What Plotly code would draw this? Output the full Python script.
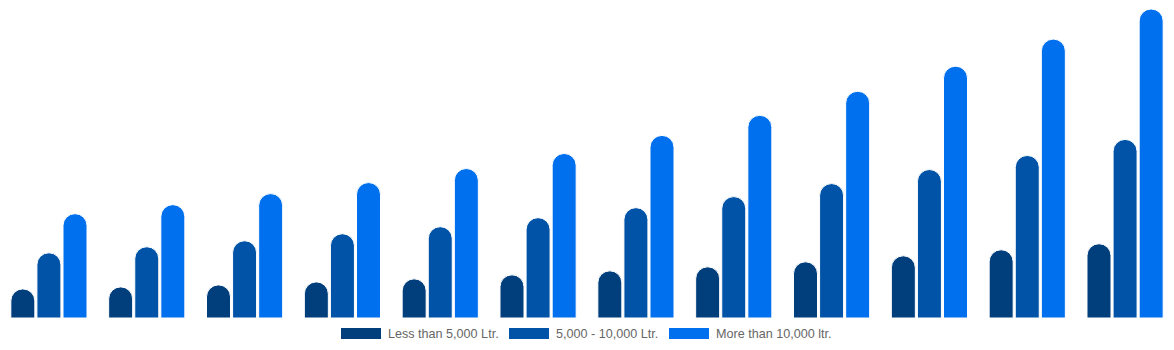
import plotly.graph_objects as go

categories = ["2023", "2024", "2025", "2026", "2027", "2028", "2029", "2030", "2031", "2032", "2033", "2034"]
series_names = ["Less than 5,000 Ltr.", "5,000 - 10,000 Ltr.", "More than 10,000 ltr."]
less_5000 = [2.9, 3.1, 3.3, 3.6, 3.9, 4.3, 4.7, 5.1, 5.6, 6.2, 6.8, 7.4]
mid_5000_10000 = [6.5, 7.1, 7.7, 8.4, 9.1, 10.0, 11.0, 12.1, 13.4, 14.8, 16.2, 17.8]
more_10000 = [10.4, 11.3, 12.4, 13.5, 14.9, 16.4, 18.2, 20.2, 22.6, 25.1, 27.8, 30.8]
colors = ["#013e7c", "#0053a6", "#0070ee"]

W, H = 1174, 350
T, B = 7, 32
plot_h = H - T - B

fig = go.Figure()
for name, vals, col in zip(series_names, [less_5000, mid_5000_10000, more_10000], colors):
    fig.add_trace(go.Bar(x=categories, y=vals, name=name, marker=dict(color=col, line=dict(color="white", width=1)),
                         showlegend=False))

fig.update_layout(
    width=W, height=H,
    margin=dict(l=0, r=0, t=T, b=B),
    plot_bgcolor="white", paper_bgcolor="white",
    barmode="group", bargap=0.2, bargroupgap=0.08,
    barcornerradius=12,
    xaxis=dict(visible=False),
    yaxis=dict(visible=False, range=[0, 31]),
    font=dict(family="Liberation Sans, Arial, sans-serif", size=12, color="#666666"),
)

# custom legend (rectangular swatches)
def px_x(x):
    return x / W

def px_y(y):
    return (H - B - y) / plot_h

legend_items = [(341, 386), (509, 554), (669, 714)]
for (rx, tx), name, col in zip(legend_items, series_names, colors):
    fig.add_shape(type="rect", xref="paper", yref="paper",
                  x0=px_x(rx), x1=px_x(rx + 40), y0=px_y(339), y1=px_y(328),
                  fillcolor=col, line=dict(width=0))
    fig.add_annotation(xref="paper", yref="paper", x=px_x(tx), y=px_y(333.5),
                       text=name, showarrow=False, xanchor="left", yanchor="middle",
                       font=dict(size=12.6, color="#666666"))

fig.write_html("out.html")
